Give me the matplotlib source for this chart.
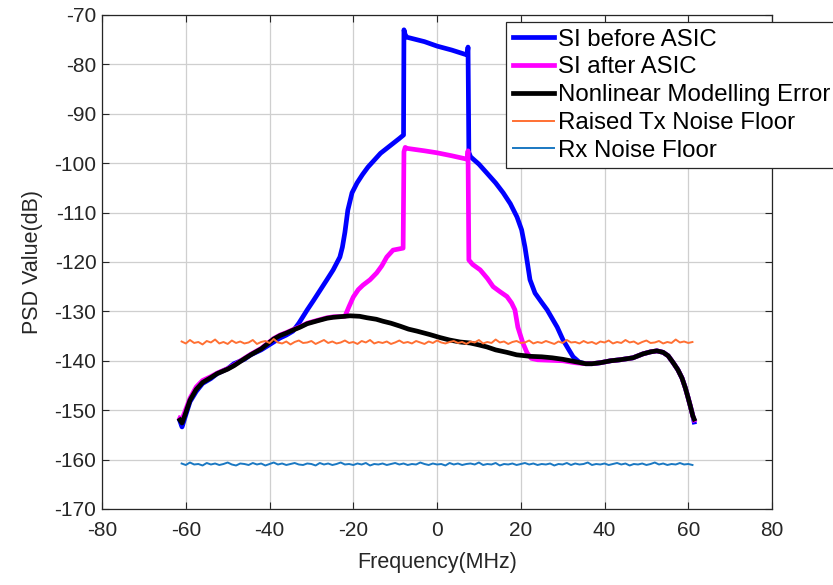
import numpy as np
import matplotlib
matplotlib.use('Agg')
import matplotlib.pyplot as plt

plt.rcParams['font.family'] = ['Liberation Sans', 'DejaVu Sans']
plt.rcParams['axes.unicode_minus'] = False

# ---- SI before ASIC (blue)
f_before = [-61.4, -60.9, -60.2, -59.0, -57.5, -56.0, -54.0, -52.5, -50.0, -48.5,
            -46.0, -44.5, -42.0, -40.5, -39.0, -37.5, -36.0, -34.4, -33.0, -31.0,
            -29.5, -27.9, -26.3, -24.8, -23.2, -22.6, -22.0, -21.3, -20.3, -19.1,
            -17.8, -16.5, -15.0, -13.5, -12.0, -10.5, -9.0, -8.0,
            -7.9, -7.6, -7.2, -3.0, 0.0, 3.5, 7.2, 7.4, 7.6, 8.0,
            10.0, 11.9, 14.0, 15.8, 17.5, 19.1, 20.2, 21.0, 22.2, 23.4,
            25.0, 26.3, 28.7, 30.1, 31.5, 32.5, 34.0, 35.5, 37.0, 39.0,
            41.5, 43.7, 46.8, 49.2, 51.0, 52.5, 54.0, 55.2, 56.4, 57.5,
            58.5, 59.3, 59.9, 60.5, 61.1, 61.4]
psd_before = [-152.2, -153.4, -151.5, -148.3, -146.2, -144.6, -143.6, -142.6, -141.6, -140.6,
              -139.7, -138.8, -137.8, -137.0, -136.2, -135.4, -134.8, -134.0, -132.4, -129.7,
              -127.8, -125.7, -123.6, -121.6, -119.0, -117.0, -114.0, -109.5, -106.0, -104.0,
              -102.3, -100.8, -99.4, -98.0, -97.0, -96.0, -95.0, -94.3,
              -73.0, -74.0, -74.5, -75.4, -76.3, -77.1, -78.1, -76.5, -97.8, -98.7,
              -100.2, -102.0, -104.0, -106.0, -108.2, -110.9, -113.5, -117.0, -123.6, -126.3,
              -128.2, -129.7, -133.2, -135.8, -137.8, -139.2, -140.3, -140.6, -140.6, -140.4,
              -140.0, -139.8, -139.4, -138.6, -138.2, -138.0, -138.3, -139.0, -140.4, -141.8,
              -143.5, -145.5, -147.3, -149.2, -151.2, -152.4]

# ---- SI after ASIC (magenta)
f_after = [-61.4, -60.9, -60.2, -59.0, -57.5, -56.0, -54.0, -52.5, -50.0, -48.5,
           -46.0, -44.5, -42.0, -40.5, -39.0, -37.5, -36.0, -34.4, -32.7, -31.0,
           -28.5, -26.3, -24.8, -22.0, -21.0, -20.0, -18.8, -17.7, -16.0, -14.4,
           -13.2, -12.0, -10.5, -8.1, -7.9, -7.6, -7.2, -3.0, 0.0, 3.5,
           7.2, 7.4, 7.6, 8.5, 10.3, 12.0, 13.4, 15.0, 16.7, 17.8,
           18.6, 19.3, 20.5, 21.5, 22.5, 24.0, 27.0, 30.0, 33.0, 35.5,
           37.0, 39.0, 41.5, 43.7, 46.8, 49.2, 51.0, 52.5, 54.0, 55.2,
           56.4, 57.5, 58.5, 59.3, 59.9, 60.5, 61.1, 61.4]
psd_after = [-151.6, -151.8, -150.3, -147.6, -145.3, -144.0, -143.2, -142.5, -141.6, -140.9,
             -139.5, -138.7, -137.5, -136.5, -135.5, -134.8, -134.3, -133.7, -133.1, -132.4,
             -131.8, -131.3, -131.1, -131.0, -129.0, -127.1, -125.6, -124.7, -123.6, -122.2,
             -120.8, -119.0, -117.6, -117.2, -97.7, -96.8, -97.0, -97.5, -97.9, -98.5,
             -99.2, -97.5, -119.6, -120.5, -121.6, -123.3, -125.0, -126.0, -127.0, -128.3,
             -129.7, -133.2, -136.4, -138.4, -139.5, -139.8, -139.9, -140.0, -140.4, -140.6,
             -140.6, -140.4, -140.0, -139.8, -139.4, -138.6, -138.2, -138.0, -138.3, -139.0,
             -140.4, -141.8, -143.5, -145.5, -147.3, -149.2, -151.2, -152.0]

# ---- Nonlinear modelling error (black)
f_err = [-61.4, -60.9, -60.2, -59.0, -57.5, -56.0, -54.0, -52.5, -50.0, -48.5,
         -46.0, -44.5, -42.0, -40.5, -39.0, -37.5, -36.0, -34.4, -32.7, -31.0,
         -28.5, -26.3, -24.8, -22.0, -20.8, -18.5, -16.7, -14.5, -12.9, -11.0,
         -8.8, -6.8, -4.8, -1.7, 0.7, 3.0, 5.5, 7.9, 10.0, 11.9,
         14.0, 16.7, 19.0, 22.2, 25.0, 27.5, 30.0, 32.5, 35.5, 37.0,
         39.0, 41.5, 43.7, 46.8, 49.2, 51.0, 52.5, 54.0, 55.2, 56.4,
         57.5, 58.5, 59.3, 59.9, 60.5, 61.1, 61.4]
psd_err = [-152.0, -152.6, -151.0, -148.0, -145.8, -144.4, -143.4, -142.6, -141.7, -141.0,
           -139.6, -138.8, -137.6, -136.6, -135.6, -134.9, -134.4, -133.8, -133.2, -132.5,
           -131.9, -131.4, -131.2, -131.0, -130.9, -131.0, -131.3, -131.6, -132.0, -132.4,
           -133.0, -133.6, -134.0, -134.7, -135.3, -135.8, -136.2, -136.4, -136.8, -137.2,
           -137.8, -138.3, -138.8, -139.1, -139.2, -139.4, -139.7, -140.1, -140.6, -140.6,
           -140.4, -140.0, -139.8, -139.4, -138.6, -138.2, -138.0, -138.3, -139.0, -140.4,
           -141.8, -143.5, -145.5, -147.3, -149.2, -151.2, -151.8]

# ---- noise floors, sampled every 1 MHz from -61 to 61
f_noise = np.arange(-61, 62)
tx_floor = [-136.1, -136.5, -135.8, -136.4, -136.2, -136.7, -136.0, -136.3, -135.7, -136.5,
            -136.2, -136.6, -135.9, -136.4, -136.1, -136.5, -136.3, -135.8, -136.6, -136.2,
            -136.0, -136.4, -135.6, -136.3, -136.5, -136.1, -136.7, -136.2, -135.9, -136.4,
            -136.3, -136.0, -136.6, -136.2, -135.8, -136.4, -136.1, -136.5, -136.3, -135.9,
            -136.4, -136.2, -136.6, -136.0, -136.3, -135.8, -136.5, -136.2, -136.4, -136.1,
            -136.6, -136.3, -135.9, -136.4, -136.2, -136.5, -136.0, -136.3, -136.6, -136.1,
            -136.4, -135.9, -136.3, -136.5, -136.2, -136.0, -136.4, -136.2, -136.6, -136.1,
            -136.3, -135.8, -136.5, -136.2, -136.4, -135.7, -136.3, -136.1, -136.6, -136.2,
            -136.0, -136.4, -136.3, -135.9, -136.5, -136.2, -136.4, -136.0, -136.3, -136.6,
            -136.1, -136.4, -135.8, -136.3, -136.2, -136.5, -136.0, -136.4, -136.2, -136.6,
            -136.1, -136.3, -135.9, -136.5, -136.2, -136.4, -135.8, -136.3, -136.1, -136.6,
            -136.2, -135.9, -136.4, -136.3, -136.0, -136.5, -136.2, -136.4, -135.7, -136.3,
            -136.1, -136.4, -136.2]
rx_floor = [-160.8, -161.1, -160.6, -161.0, -160.9, -161.2, -160.7, -161.0, -160.8, -161.1,
            -160.9, -160.6, -161.0, -161.2, -160.8, -160.9, -161.1, -160.7, -161.0, -160.8,
            -161.2, -160.9, -160.6, -161.0, -160.8, -161.1, -160.9, -160.7, -161.0, -161.1,
            -160.8, -160.9, -161.2, -160.7, -161.0, -160.8, -161.1, -160.9, -160.6, -161.0,
            -160.9, -161.1, -160.8, -161.0, -160.7, -161.2, -160.9, -161.0, -160.8, -161.1,
            -160.9, -160.7, -161.0, -160.8, -161.1, -160.9, -161.0, -160.6, -160.9, -161.1,
            -160.8, -161.0, -160.9, -161.2, -160.7, -161.0, -160.8, -161.1, -160.9, -160.8,
            -161.0, -160.6, -161.1, -160.9, -161.0, -160.7, -161.2, -160.9, -161.0, -160.8,
            -161.1, -160.9, -160.7, -161.0, -160.8, -161.1, -160.9, -161.0, -160.8, -161.2,
            -160.9, -161.0, -160.7, -161.1, -160.8, -161.0, -160.9, -160.6, -161.1, -160.9,
            -161.0, -160.8, -161.1, -160.9, -160.7, -161.0, -160.8, -161.2, -160.9, -161.0,
            -160.8, -161.1, -160.9, -160.6, -161.0, -160.8, -161.1, -160.9, -161.0, -160.7,
            -161.0, -160.9, -161.1]

labels = ['SI before ASIC', 'SI after ASIC', 'Nonlinear Modelling Error',
          'Raised Tx Noise Floor', 'Rx Noise Floor']

fig = plt.figure(figsize=(8.33, 5.85), dpi=100)
ax = fig.add_axes([0.1225, 0.130, 0.8043, 0.8444])

ax.plot(f_before, psd_before, color='#0000ff', lw=3.4, label=labels[0])
ax.plot(f_after, psd_after, color='#ff00ff', lw=3.4, label=labels[1])
ax.plot(f_err, psd_err, color='black', lw=3.4, label=labels[2])
ax.plot(f_noise, tx_floor, color='#ff7033', lw=1.4, label=labels[3])
ax.plot(f_noise, rx_floor, color='#1a78c2', lw=1.4, label=labels[4])

ax.set_xlim(-80, 80)
ax.set_ylim(-170, -70)
ax.set_xticks(np.arange(-80, 81, 20))
ax.set_yticks(np.arange(-170, -69, 10))
ax.grid(True, color='#cfcfcf', lw=0.9)
ax.set_axisbelow(True)
ax.tick_params(direction='in', top=True, right=True, length=5, width=0.8,
               labelsize=15, colors='#262626')
ax.tick_params(axis='x', pad=9)
ax.tick_params(axis='y', pad=4)
for s in ax.spines.values():
    s.set_color('#262626')
    s.set_linewidth(0.9)

ax.set_xlabel('Frequency(MHz)', fontsize=15.5, color='#262626', labelpad=8)
ax.set_ylabel('PSD Value(dB)', fontsize=15.5, color='#262626', labelpad=8)

leg = ax.legend(loc='upper left', bbox_to_anchor=(0.603, 0.986), fontsize=17.3,
                frameon=True, fancybox=False, framealpha=1, edgecolor='#262626',
                borderaxespad=0, borderpad=0.28, labelspacing=0.24,
                handlelength=1.7, handletextpad=0.2)
leg.get_frame().set_linewidth(0.9)

fig.savefig('out.png', dpi=100)
